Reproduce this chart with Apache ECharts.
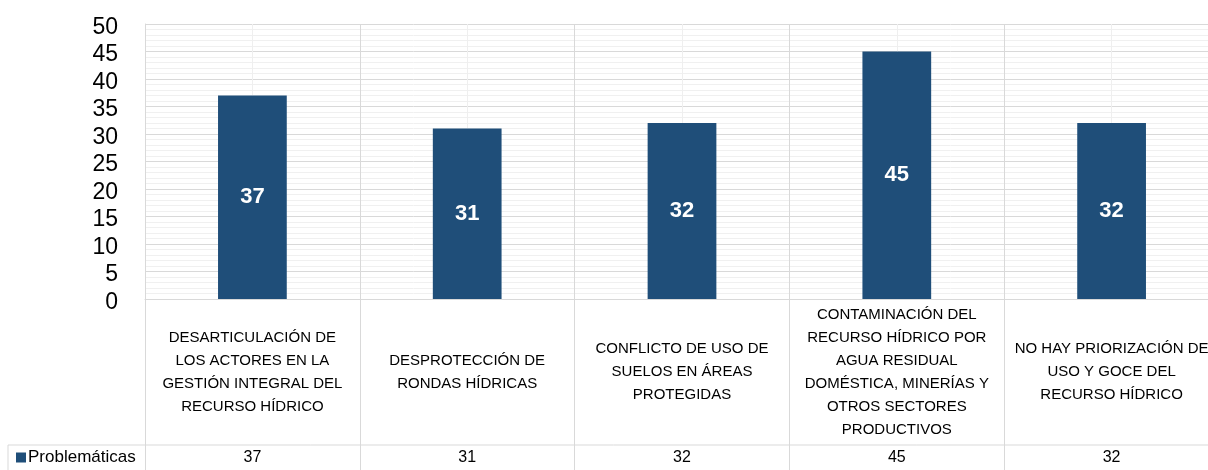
<!DOCTYPE html>
<html>
<head>
<meta charset="utf-8">
<script src="https://cdn.jsdelivr.net/npm/echarts@6/dist/echarts.min.js"></script>
<style>
  html, body { margin: 0; padding: 0; background: #fff; overflow: hidden; }
  #chart { width: 1219px; height: 470px; }
</style>
</head>
<body>
<div id="chart"></div>
<script>
const seriesName = 'Problemáticas'
const categories = [
  'DESARTICULACIÓN DE\nLOS ACTORES EN LA\nGESTIÓN INTEGRAL DEL\nRECURSO HÍDRICO',
  'DESPROTECCIÓN DE\nRONDAS HÍDRICAS',
  'CONFLICTO DE USO DE\nSUELOS EN ÁREAS\nPROTEGIDAS',
  'CONTAMINACIÓN DEL\nRECURSO HÍDRICO POR\nAGUA RESIDUAL\nDOMÉSTICA, MINERÍAS Y\nOTROS SECTORES\nPRODUCTIVOS',
  'NO HAY PRIORIZACIÓN DE\nUSO Y GOCE DEL\nRECURSO HÍDRICO'
]
const values = [37, 31, 32, 45, 32]

const gridColor = '#d9d9d9'
const tableFont = '"Liberation Sans", Arial, sans-serif'

// the plot runs past the right edge of the window, as in the original
const chart = echarts.init(document.getElementById('chart'))

const option = {
  animation: false,
  grid: [
    { left: 145, top: 24, right: 0, bottom: 171 },
    { left: 145, top: 299, right: 0, bottom: -30 }
  ],
  legend: {
    data: [seriesName],
    left: 16,
    top: 449,
    padding: 0,
    icon: 'rect',
    itemWidth: 10,
    itemHeight: 10,
    itemGap: 2,
    textStyle: { fontSize: 17, color: '#000', fontFamily: tableFont, padding: [0, 0, 0, -3] }
  },
  xAxis: [
    {
      type: 'category',
      gridIndex: 0,
      position: 'bottom',
      data: categories,
      axisLine: { lineStyle: { color: gridColor } },
      axisTick: { show: true, inside: true, length: 275, alignWithLabel: true, lineStyle: { color: '#efefef' } },
      splitLine: { show: true, lineStyle: { color: gridColor } },
      axisLabel: {
        interval: 0, margin: 73, verticalAlign: 'middle',
        fontSize: 15, lineHeight: 23, color: '#000', fontFamily: tableFont
      }
    },
    {
      type: 'category',
      gridIndex: 0,
      position: 'bottom',
      data: categories,
      axisLine: { show: false },
      axisTick: { show: false },
      splitLine: { show: false },
      axisLabel: {
        interval: 0, margin: 159, verticalAlign: 'middle',
        fontSize: 16, color: '#000', fontFamily: tableFont,
        formatter: (v, i) => values[i]
      }
    },
    {
      type: 'category',
      gridIndex: 1,
      data: categories,
      axisLine: { show: false },
      axisTick: { show: false },
      axisLabel: { show: false },
      splitLine: { show: true, lineStyle: { color: gridColor } }
    }
  ],
  yAxis: [
    {
      type: 'value',
      gridIndex: 0,
      min: 0,
      max: 50,
      interval: 5,
      axisLine: { show: true, lineStyle: { color: gridColor } },
      axisTick: { show: false },
      axisLabel: {
        fontSize: 23, color: '#000', margin: 27, verticalAlign: 'top', lineHeight: 23,
        padding: [-8, 0, 0, 0], fontFamily: '"Liberation Sans", Arial, sans-serif'
      },
      splitLine: { lineStyle: { color: gridColor } },
      minorTick: { show: false, splitNumber: 5 },
      minorSplitLine: { show: true, lineStyle: { color: '#f0f0f0' } }
    },
    {
      type: 'value',
      gridIndex: 1,
      min: 0,
      max: 1,
      axisLine: { show: true, lineStyle: { color: gridColor } },
      axisTick: { show: false },
      axisLabel: { show: false },
      splitLine: { show: false }
    }
  ],
  graphic: [
    { type: 'line', shape: { x1: 8, y1: 445, x2: 1219, y2: 445 }, style: { stroke: gridColor, lineWidth: 1 } },
    { type: 'line', shape: { x1: 8, y1: 445, x2: 8, y2: 470 }, style: { stroke: gridColor, lineWidth: 1 } }
  ],
  series: [
    {
      name: seriesName,
      type: 'bar',
      xAxisIndex: 0,
      yAxisIndex: 0,
      data: values,
      barWidth: '32%',
      itemStyle: { color: '#1f4e79' },
      label: {
        show: true,
        position: 'inside',
        color: '#fff',
        fontWeight: 'bold',
        fontSize: 22,
        fontFamily: '"Liberation Sans", Arial, sans-serif'
      }
    }
  ]
}

chart.setOption(option)
</script>
</body>
</html>
